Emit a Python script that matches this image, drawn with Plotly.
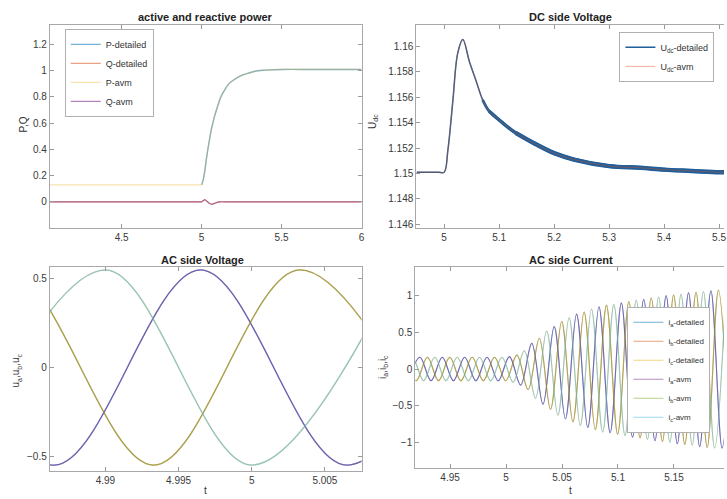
import plotly.graph_objects as go

# ---------------- data ----------------
# Panel 1: active / reactive power
pq_t = [4.05, 4.5, 4.95, 4.99, 5.0, 5.01, 5.02, 5.03, 5.04, 5.05, 5.06, 5.07, 5.08, 5.10, 5.12,
        5.14, 5.17, 5.20, 5.25, 5.30, 5.35, 5.40, 5.50, 5.70, 6.0]
p_vals = [0.13, 0.13, 0.13, 0.13, 0.13, 0.17, 0.24, 0.33, 0.41, 0.48, 0.55, 0.60, 0.65, 0.73, 0.80,
          0.845, 0.90, 0.93, 0.965, 0.985, 1.0, 1.005, 1.01, 1.01, 1.01]
q_t = [4.05, 4.5, 4.95, 4.99, 5.0, 5.01, 5.02, 5.03, 5.045, 5.06, 5.075, 5.09, 5.11, 5.15, 5.5, 6.0]
q_vals = [0.0, 0.0, 0.0, 0.0, 0.0, 0.01, 0.016, 0.008, -0.008, -0.018, -0.015, -0.007, 0.0, 0.0, 0.0, 0.0]

# Panel 2: DC side voltage
udc_t = [4.95, 4.97, 4.99, 5.0, 5.0067, 5.0158, 5.0248, 5.034, 5.046, 5.058, 5.070, 5.082, 5.106,
         5.130, 5.167, 5.200, 5.236, 5.300, 5.357, 5.400, 5.450, 5.500, 5.52]
udc_vals = [1.1501, 1.1501, 1.1501, 1.1501, 1.1518, 1.1557, 1.1595, 1.16055, 1.1588, 1.1573,
            1.1558, 1.1549, 1.1540, 1.1532, 1.1523, 1.1516, 1.1511, 1.15058, 1.15045, 1.1503,
            1.1502, 1.1501, 1.1501]

# Panel 3: AC side voltage (extrema of each phase, every half period)
ua_t0, ub_t0, uc_t0 = 4.9765, 4.9733, 4.98
u_half = 0.01
ua_vals = [0.55, -0.55, 0.55, -0.55, 0.55]
ub_vals = [-0.55, 0.55, -0.55, 0.55, -0.55]
uc_vals = [-0.55, 0.55, -0.55, 0.55]

# Panel 4: AC side current (extrema of each phase, every half period)
ia_t0, ib_t0, ic_t0 = 4.913, 4.9097, 4.9063
i_half = 0.01
ia_vals = [-0.16, 0.16, -0.16, 0.16, -0.16, 0.16, -0.16, 0.16, -0.16, 0.17,
           -0.22, 0.35, -0.48, 0.58, -0.68, 0.75, -0.80, 0.85, -0.87, 0.90,
           -0.93, 0.95, -0.98, 1.00, -1.02, 1.04, -1.06, 1.07, -1.08, 1.09]
ib_vals = [0.16, -0.16, 0.16, -0.16, 0.16, -0.16, 0.16, -0.16, 0.16, -0.16,
           0.19, -0.28, 0.42, -0.55, 0.65, -0.72, 0.78, -0.83, 0.87, -0.89,
           0.92, -0.94, 0.97, -0.99, 1.01, -1.03, 1.05, -1.07, 1.08, -1.09]
ic_vals = [-0.16, 0.16, -0.16, 0.16, -0.16, 0.16, -0.16, 0.16, -0.16, 0.16,
           -0.18, 0.25, -0.40, 0.52, -0.63, 0.70, -0.77, 0.82, -0.86, 0.88,
           -0.91, 0.94, -0.96, 0.98, -1.00, 1.02, -1.04, 1.06, -1.08, 1.09]

# tick labels
p1_xticks = [4.5, 5, 5.5, 6]
p1_yticks = [0, 0.2, 0.4, 0.6, 0.8, 1, 1.2]
p2_xticks = [5, 5.1, 5.2, 5.3, 5.4, 5.5]
p2_yticks = [1.146, 1.148, 1.15, 1.152, 1.154, 1.156, 1.158, 1.16]
p2_ytext = ["1.146", "1.148", "1.15", "1.152", "1.154", "1.156", "1.158", "1.16"]
p3_xticks = [4.99, 4.995, 5, 5.005]
p3_yticks = [-0.5, 0, 0.5]
p4_xticks = [4.95, 5, 5.05, 5.1, 5.15]
p4_yticks = [-1, -0.5, 0, 0.5, 1]


def times(t0, step, n):
    return [t0 + k * step for k in range(n)]


BLUE, ORANGE, YELLOW = "#0072BD", "#D95319", "#EDB120"
PURPLE, GREEN, LBLUE = "#7E2F8E", "#77AC30", "#4DBEEE"
DCBLUE = "#1f5f9c"
FONT = "Liberation Sans, Arial, sans-serif"
W, H = 727, 499

fig = go.Figure()

# Panel 1
after = [i for i, t in enumerate(pq_t) if t >= 5.0]
fig.add_trace(go.Scatter(x=[pq_t[i] for i in after], y=[p_vals[i] for i in after], name="P-detailed",
                         mode="lines", line_shape="spline", line=dict(color=BLUE, width=1.4), opacity=0.55,
                         xaxis="x", yaxis="y", legend="legend"))
fig.add_trace(go.Scatter(x=q_t, y=q_vals, name="Q-detailed", mode="lines", line_shape="spline",
                         line=dict(color=ORANGE, width=1.3), opacity=0.55, xaxis="x", yaxis="y", legend="legend"))
fig.add_trace(go.Scatter(x=pq_t, y=p_vals, name="P-avm", mode="lines", line_shape="spline",
                         line=dict(color=YELLOW, width=1.2), opacity=0.35, xaxis="x", yaxis="y", legend="legend"))
fig.add_trace(go.Scatter(x=q_t, y=q_vals, name="Q-avm", mode="lines", line_shape="spline",
                         line=dict(color=PURPLE, width=1.1), opacity=0.6, xaxis="x", yaxis="y", legend="legend"))

# Panel 2
fig.add_trace(go.Scatter(x=udc_t, y=udc_vals, name="U<sub>dc</sub>-detailed", mode="lines",
                         line_shape="spline", line=dict(color=DCBLUE, width=1.5),
                         xaxis="x2", yaxis="y2", legend="legend2"))
for start, wd in ((5.07, 2.8), (5.082, 3.6), (5.13, 4.4)):
    band = [i for i, t in enumerate(udc_t) if t >= start]
    fig.add_trace(go.Scatter(x=[udc_t[i] for i in band], y=[udc_vals[i] for i in band], mode="lines",
                             line_shape="spline", line=dict(color=DCBLUE, width=wd), showlegend=False,
                             hoverinfo="skip", xaxis="x2", yaxis="y2"))
fig.add_trace(go.Scatter(x=udc_t, y=udc_vals, name="U<sub>dc</sub>-avm", mode="lines",
                         line_shape="spline", line=dict(color=ORANGE, width=1.0), opacity=0.45,
                         xaxis="x2", yaxis="y2", legend="legend2"))

# Panel 3
for name, t0, vals, col in [("u_a-detailed", ua_t0, ua_vals, BLUE), ("u_b-detailed", ub_t0, ub_vals, ORANGE),
                            ("u_c-detailed", uc_t0, uc_vals, YELLOW), ("u_a-avm", ua_t0, ua_vals, PURPLE),
                            ("u_b-avm", ub_t0, ub_vals, GREEN), ("u_c-avm", uc_t0, uc_vals, LBLUE)]:
    fig.add_trace(go.Scatter(x=times(t0, u_half, len(vals)), y=vals, name=name, mode="lines",
                             line_shape="spline", line=dict(color=col, width=1.3), opacity=0.6,
                             showlegend=False, xaxis="x3", yaxis="y3"))

# Panel 4
for name, t0, vals, col in [("i<sub>a</sub>-detailed", ia_t0, ia_vals, BLUE),
                            ("i<sub>b</sub>-detailed", ib_t0, ib_vals, ORANGE),
                            ("i<sub>c</sub>-detailed", ic_t0, ic_vals, YELLOW),
                            ("i<sub>a</sub>-avm", ia_t0, ia_vals, PURPLE),
                            ("i<sub>b</sub>-avm", ib_t0, ib_vals, GREEN),
                            ("i<sub>c</sub>-avm", ic_t0, ic_vals, LBLUE)]:
    fig.add_trace(go.Scatter(x=times(t0, i_half, len(vals)), y=vals, name=name, mode="lines",
                             line_shape="spline", line=dict(color=col, width=1.1), opacity=0.55,
                             xaxis="x4", yaxis="y4", legend="legend3"))


def ax(domain, rng, tickvals, ticktext=None, anchor=None, mirror="allticks"):
    d = dict(domain=domain, range=rng, tickvals=tickvals, ticks="inside", ticklen=4,
             tickcolor="#9a9a9a", showline=True, linecolor="#a8a8a8", linewidth=1,
             mirror=mirror, showgrid=False, zeroline=False,
             tickfont=dict(family=FONT, size=10, color="#3a3a3a"), anchor=anchor)
    if ticktext is not None:
        d["ticktext"] = ticktext
    return d


def px_x(a, b):
    return [a / W, min(b / W, 1.0)]


def px_y(top, bottom):
    return [1 - bottom / H, 1 - top / H]


LEGFONT = dict(family=FONT, size=9, color="#333")
fig.update_layout(
    width=W, height=H, margin=dict(l=0, r=0, t=0, b=0),
    paper_bgcolor="white", plot_bgcolor="white",
    font=dict(family=FONT, color="#333333"),
    xaxis=ax(px_x(50, 363), [4.05, 6.0], p1_xticks, anchor="y"),
    yaxis=ax(px_y(25, 229), [-0.2, 1.35], p1_yticks, anchor="x"),
    xaxis2=ax(px_x(418, 727), [4.9493, 5.509], p2_xticks, anchor="y2"),
    yaxis2=ax(px_y(25, 229), [1.1457, 1.1617], p2_yticks, p2_ytext, anchor="x2", mirror=False),
    xaxis3=ax(px_x(50, 363), [4.9862, 5.0075], p3_xticks, anchor="y3"),
    yaxis3=ax(px_y(268, 473), [-0.584, 0.567], p3_yticks, anchor="x3"),
    xaxis4=ax(px_x(417, 727), [4.9189, 5.1947], p4_xticks, anchor="y4"),
    yaxis4=ax(px_y(268, 470), [-1.354, 1.395], p4_yticks, anchor="x4", mirror=False),
    legend=dict(x=65 / W, y=1 - 29 / H, xanchor="left", yanchor="top", bgcolor="white",
                bordercolor="#b0b0b0", borderwidth=1, font=LEGFONT, tracegroupgap=0),
    legend2=dict(x=622 / W, y=1 - 32 / H, xanchor="left", yanchor="top", bgcolor="white",
                 bordercolor="#b0b0b0", borderwidth=1, font=LEGFONT),
    legend3=dict(x=630 / W, y=1 - 308 / H, xanchor="left", yanchor="top", bgcolor="white",
                 bordercolor="#b0b0b0", borderwidth=1, font=dict(family=FONT, size=8, color="#333")),
)

titles = [("active and reactive power", 206, 17), ("DC side Voltage", 573, 17),
          ("AC side Voltage", 203, 261), ("AC side Current", 573, 261)]
for txt, x, y in titles:
    fig.add_annotation(text="<b>" + txt + "</b>", x=x / W, y=1 - y / H, xref="paper", yref="paper",
                       showarrow=False, font=dict(family=FONT, size=11, color="#222"),
                       xanchor="center", yanchor="middle")

ylabels = [("P,Q", 24, 125), ("U<sub>dc</sub>", 374, 122), ("u<sub>a</sub>,u<sub>b</sub>,u<sub>c</sub>", 16, 372),
           ("i<sub>a</sub>,i<sub>b</sub>,i<sub>c</sub>", 384, 368)]
for txt, x, y in ylabels:
    fig.add_annotation(text=txt, x=x / W, y=1 - y / H, xref="paper", yref="paper", showarrow=False,
                       textangle=-90, font=dict(family=FONT, size=10, color="#333"),
                       xanchor="center", yanchor="middle")

for x in (206, 573):
    fig.add_annotation(text="t", x=x / W, y=1 - 492 / H, xref="paper", yref="paper", showarrow=False,
                       font=dict(family=FONT, size=10, color="#333"), xanchor="center", yanchor="middle")

fig.write_html("out.html")
